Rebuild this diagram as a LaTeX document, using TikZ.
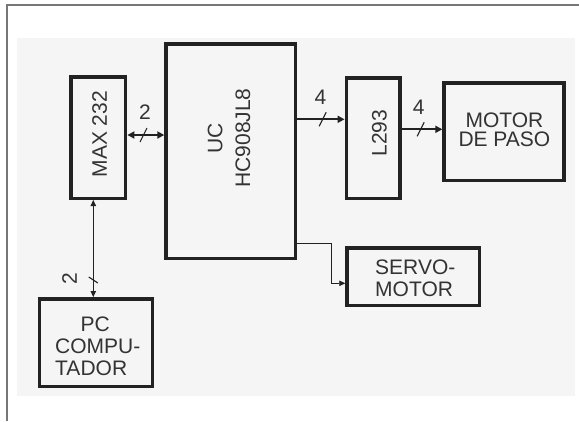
\documentclass[tikz,border=0pt]{standalone}
\usepackage{fontspec}
\setmainfont{Liberation Sans}
\usetikzlibrary{arrows.meta}
\definecolor{ink}{HTML}{222222}
\definecolor{txt}{HTML}{333333}
\definecolor{bgfill}{HTML}{F5F5F5}
\definecolor{framec}{HTML}{777777}
\tikzset{
  blk/.style={draw=ink, line width=3.5pt, inner sep=0pt, rectangle},
  lbl/.style={text=txt, inner sep=0pt, font=\fontsize{21}{22}\selectfont},
  wide/.style={draw=ink, line width=1.8pt},
  thin/.style={draw=ink, line width=0.9pt},
  tipbig/.style={-{Triangle[length=7pt,width=7pt]}},
  tipboth/.style={{Triangle[length=7pt,width=7pt]}-{Triangle[length=7pt,width=7pt]}},
  tipsmall/.style={-{Triangle[length=6pt,width=5.5pt]}},
  tipsmallboth/.style={{Triangle[length=6pt,width=5.5pt]}-{Triangle[length=6pt,width=5.5pt]}},
  slash/.style={draw=ink, line width=1.1pt},
}
\begin{document}
\begin{tikzpicture}[x=1pt,y=-1pt]
\useasboundingbox (0,0) rectangle (579,421);
% background and frame
\fill[bgfill] (16.6,38) rectangle (575,396);
\draw[framec, line width=2pt] (6.6,421) -- (6.6,5) -- (579,5);

% blocks
\node[blk, minimum width=54.5pt, minimum height=121.5pt] (max) at (98.4,137.5) {};
\node[blk, minimum width=129.5pt, minimum height=214.5pt] (uc) at (230.8,151) {};
\node[blk, minimum width=53.8pt, minimum height=120.5pt] (l293) at (373.2,138) {};
\node[blk, minimum width=119.8pt, minimum height=97.5pt] (motor) at (504,131.5) {};
\node[blk, minimum width=132.4pt, minimum height=57.5pt] (servo) at (413.2,276.5) {};
\node[blk, minimum width=112.8pt, minimum height=87.5pt] (pc) at (95.9,342.5) {};

% texts
\node[lbl, rotate=90] (maxt) at (99.7,134.2) {MAX 232};
\node[lbl, rotate=90, align=center, font=\fontsize{21}{27.7}\selectfont] (uct) at (229,138) {UC\\HC908JL8};
\node[lbl, rotate=90] (l293t) at (379.3,133.3) {L293};
\node[lbl, align=center, font=\fontsize{21}{19}\selectfont] (motort) at (504.4,130) {MOTOR\\DE PASO};
\node[lbl, align=left] (servot) at (415.3,278) {SERVO-\\MOTOR};
\node[lbl, align=left] (pct) at (97.8,346.7) {\hspace*{25.5pt}PC\\COMPU-\\TADOR};

% connector coordinates
\coordinate (h1) at (0,135);
\coordinate (h2) at (0,119.3);
\coordinate (h3) at (0,129.3);
\coordinate (vx) at (93.3,0);
\coordinate (sa) at (331,243.3);
\coordinate (sb) at (331,283.3);

% connectors
\draw[wide, tipboth] (max.east |- h1) -- (uc.west |- h1);
\draw[wide, tipbig] (uc.east |- h2) -- (l293.west |- h2);
\draw[wide, tipbig] (l293.east |- h3) -- (motor.west |- h3);
\draw[thin, tipsmall] (uc.east |- sa) -- (sa) -- (sb) -- (servo.west |- sb);
\draw[thin, tipsmallboth] (max.south -| vx) -- (pc.north -| vx);

% bus slashes
\coordinate (s1) at (143.5,135);
\coordinate (s2) at (322.7,119.3);
\coordinate (s3) at (420.7,129.3);
\coordinate (s4) at (93.3,280);
\draw[slash] (s1) ++(-3.5,7) -- ++(7,-14);
\draw[slash] (s2) ++(-3.5,7) -- ++(7,-14);
\draw[slash] (s3) ++(-3.5,7) -- ++(7,-14);
\draw[slash] (s4) ++(-4.5,-3) -- ++(9,6);

% bus widths
\node[lbl] (n1) at (145,112) {2};
\node[lbl] (n2) at (320.5,97.5) {4};
\node[lbl] (n3) at (418.7,107) {4};
\node[lbl, rotate=90] (n4) at (69.5,279) {2};
\end{tikzpicture}
\end{document}
